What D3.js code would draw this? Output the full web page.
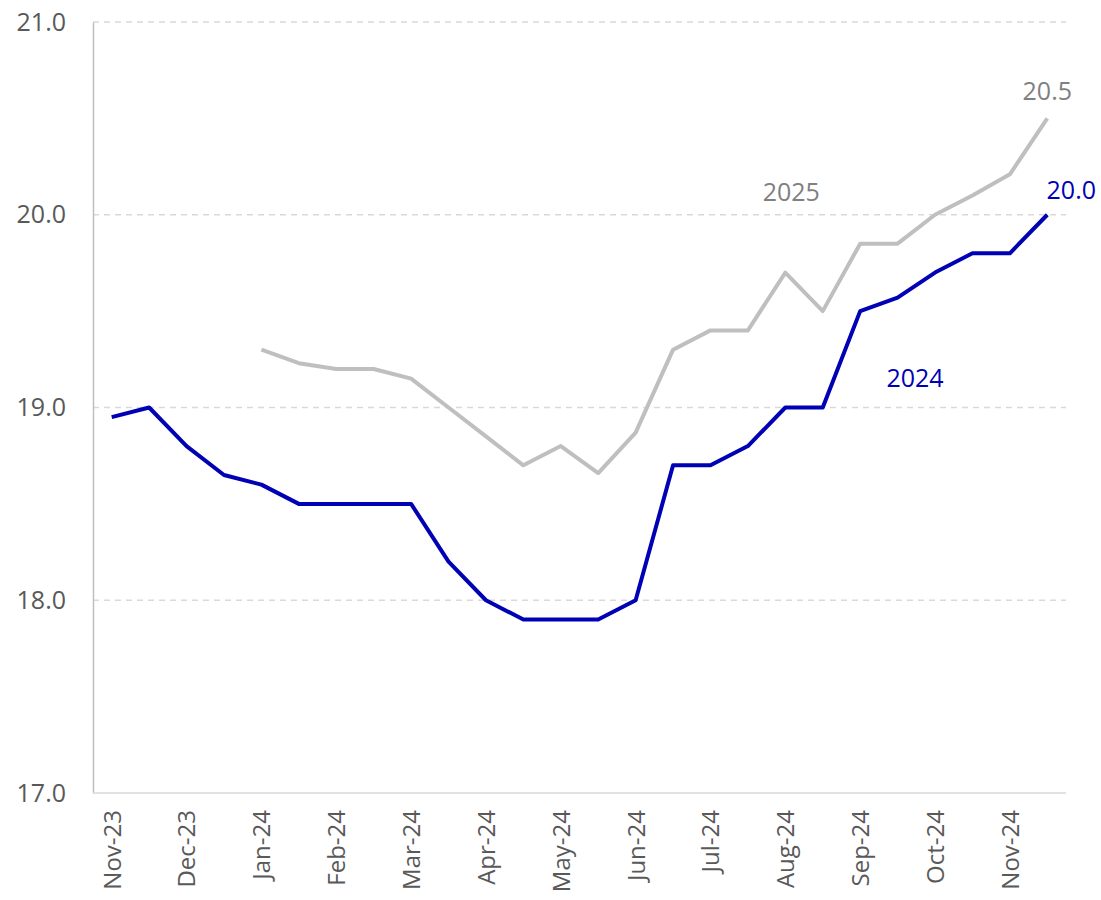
<!DOCTYPE html>
<html>
<head>
<meta charset="utf-8">
<script src="https://cdn.jsdelivr.net/npm/d3@7"></script>
<style>
  body { margin: 0; background: #fff; }
  text { font-family: "Open Sans", "DejaVu Sans", sans-serif; }
</style>
</head>
<body>
<svg id="chart" width="1101" height="900"></svg>
<script>
// half-monthly periods, first of the month gets a tick label
const periods = ['2023-11-01','2023-11-15','2023-12-01','2023-12-15','2024-01-01','2024-01-15',
  '2024-02-01','2024-02-15','2024-03-01','2024-03-15','2024-04-01','2024-04-15','2024-05-01',
  '2024-05-15','2024-06-01','2024-06-15','2024-07-01','2024-07-15','2024-08-01','2024-08-15',
  '2024-09-01','2024-09-15','2024-10-01','2024-10-15','2024-11-01','2024-11-15'];

const series2024 = [18.95, 19.0, 18.8, 18.65, 18.6, 18.5, 18.5, 18.5, 18.5, 18.2, 18.0, 17.9, 17.9,
  17.9, 18.0, 18.7, 18.7, 18.8, 19.0, 19.0, 19.5, 19.57, 19.7, 19.8, 19.8, 20.0];

const series2025 = [null, null, null, null, 19.3, 19.23, 19.2, 19.2, 19.15, 19.0, 18.85, 18.7, 18.8,
  18.66, 18.87, 19.3, 19.4, 19.4, 19.7, 19.5, 19.85, 19.85, 20.0, 20.1, 20.21, 20.5];

const yTicks = [17, 18, 19, 20, 21];

const margin = { left: 93, right: 35, top: 22, bottom: 107 };
const width = 1101, height = 900;

const svg = d3.select('#chart');

const x = d3.scalePoint()
  .domain(periods)
  .range([margin.left, width - margin.right])
  .padding(0.5);

const y = d3.scaleLinear()
  .domain([17, 21])
  .range([height - margin.bottom, margin.top]);

const parse = d3.timeParse('%Y-%m-%d');
const fmt = d3.timeFormat('%b-%y');

// gridlines
svg.append('g')
  .selectAll('line')
  .data(yTicks.filter(d => d > 17))
  .enter()
  .append('line')
  .attr('x1', margin.left)
  .attr('x2', width - margin.right)
  .attr('y1', d => y(d))
  .attr('y2', d => y(d))
  .style('stroke', '#d9d9d9')
  .style('stroke-width', 1.5)
  .style('stroke-dasharray', '6,5');

// y axis
const yAxis = svg.append('g')
  .attr('transform', `translate(${margin.left},0)`)
  .call(d3.axisLeft(y).tickValues(yTicks).tickFormat(d3.format('.1f')).tickSize(0).tickPadding(27));
yAxis.select('.domain').style('stroke', '#bfbfbf').style('stroke-width', 1.5);
yAxis.selectAll('text')
  .style('font-size', '25px')
  .style('fill', '#595959');

// x axis
const xAxis = svg.append('g')
  .attr('transform', `translate(0,${height - margin.bottom})`)
  .call(d3.axisBottom(x)
    .tickValues(periods.filter((d, i) => i % 2 === 0))
    .tickFormat(d => fmt(parse(d)))
    .tickSize(0)
    .tickSizeOuter(0));
xAxis.select('.domain')
  .attr('d', `M${margin.left},0H${width - margin.right}`)
  .style('stroke', '#d9d9d9').style('stroke-width', 1.5);
xAxis.selectAll('text')
  .style('font-size', '24px')
  .style('fill', '#595959')
  .attr('text-anchor', 'end')
  .attr('dy', '0.35em')
  .attr('transform', 'translate(0,17) rotate(-90)')
  .attr('x', 0)
  .attr('y', 0);

const line = d3.line()
  .defined(d => d.v != null)
  .x(d => x(d.p))
  .y(d => y(d.v));

const rows = (vals) => periods.map((p, i) => ({ p: p, v: vals[i] }));

svg.append('path')
  .datum(rows(series2025))
  .attr('d', line)
  .style('fill', 'none')
  .style('stroke', '#bfbfbf')
  .style('stroke-width', 4)
  .style('stroke-linejoin', 'round');

svg.append('path')
  .datum(rows(series2024))
  .attr('d', line)
  .style('fill', 'none')
  .style('stroke', '#0000b4')
  .style('stroke-width', 4)
  .style('stroke-linejoin', 'round');

// labels
const last = periods.length - 1;
svg.append('text')
  .attr('x', x(periods[last]))
  .attr('y', y(series2025[last]) - 18)
  .attr('text-anchor', 'middle')
  .style('font-size', '25px')
  .style('fill', '#808080')
  .text(d3.format('.1f')(series2025[last]));

svg.append('text')
  .attr('x', x(periods[last]) + 24)
  .attr('y', y(series2024[last]) - 16)
  .attr('text-anchor', 'middle')
  .style('font-size', '25px')
  .style('fill', '#0000b4')
  .text(d3.format('.1f')(series2024[last]));

svg.append('text')
  .attr('x', x(periods[18]) + 6)
  .attr('y', y(20.0) - 14)
  .attr('text-anchor', 'middle')
  .style('font-size', '25px')
  .style('fill', '#808080')
  .text('2025');

svg.append('text')
  .attr('x', x(periods[22]) - 20)
  .attr('y', y(19.5) + 76)
  .attr('text-anchor', 'middle')
  .style('font-size', '25px')
  .style('fill', '#0000b4')
  .text('2024');
</script>
</body>
</html>
